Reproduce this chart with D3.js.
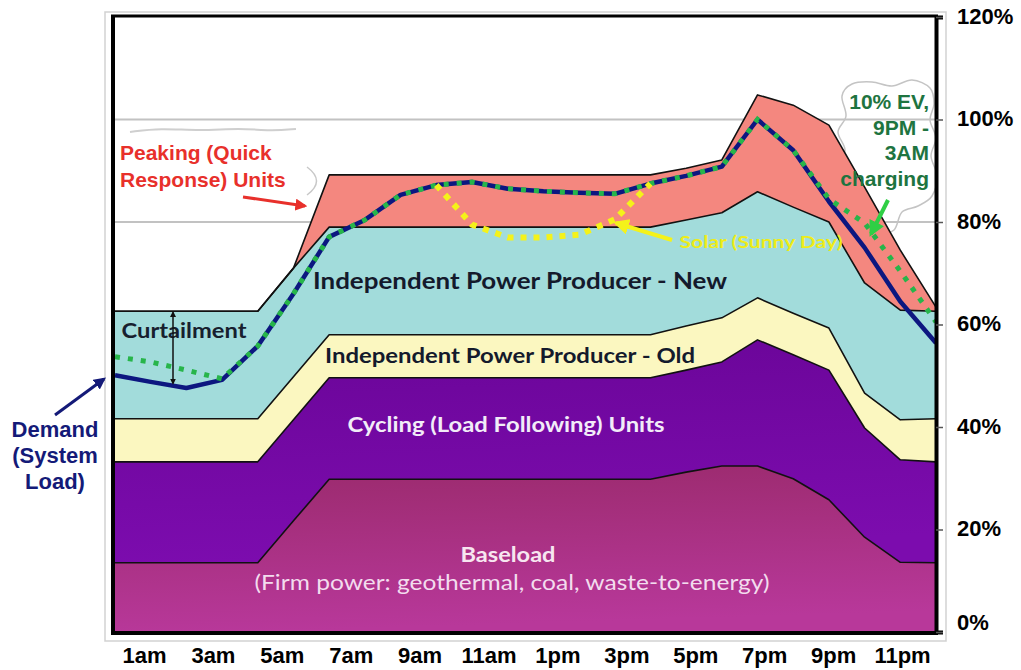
<!doctype html>
<head>
<meta charset="utf-8">
<style>
  body { margin: 0; background: #fff; }
  svg { display: block; }
  .ann { font-family: "Liberation Sans", Arial, sans-serif; font-weight: bold; }
  .inner { font-family: Lato, "Open Sans", sans-serif; }
  .axis text { font-family: "Liberation Sans", Arial, sans-serif; font-weight: bold; font-size: 22px; fill: #000; }
</style>
<script src="https://cdnjs.cloudflare.com/ajax/libs/d3/7.8.5/d3.min.js"></script>
</head>
<body>
<script>
// hour of day (0 = midnight ... 23 = 11pm)
var hours = [0,1,2,3,4,5,6,7,8,9,10,11,12,13,14,15,16,17,18,19,20,21,22,23];

// top edge of each stacked layer, % of peak demand
var baseloadTop = [13.5,13.5,13.5,13.5,13.5,21.7,29.8,29.8,29.8,29.8,29.8,29.8,29.8,29.8,29.8,29.8,31.2,32.4,32.4,29.9,25.8,18.5,13.6,13.5];
var cyclingTop  = [33.2,33.2,33.2,33.2,33.2,41.4,49.6,49.6,49.6,49.6,49.6,49.6,49.6,49.6,49.6,49.6,51.1,52.7,57.0,54.1,51.1,39.8,33.6,33.2];
var ippOldTop   = [41.6,41.6,41.6,41.6,41.6,49.8,58.0,58.0,58.0,58.0,58.0,58.0,58.0,58.0,58.0,58.0,59.7,61.3,65.2,62.2,59.3,46.6,41.4,41.6];
var ippNewTop   = [62.6,62.6,62.6,62.6,62.6,71.0,79.0,79.0,79.0,79.0,79.0,79.0,79.0,79.0,79.0,79.0,80.4,81.8,85.9,82.9,80.0,68.1,62.8,62.6];
var peakingTop  = [62.6,62.6,62.6,62.6,62.6,71.0,89.2,89.2,89.2,89.2,89.2,89.2,89.2,89.2,89.2,89.2,90.5,92.1,104.8,102.8,98.9,86.8,74.5,63.4];

var demand  = [50.1,48.8,47.6,49.2,55.8,66.0,77.1,80.4,85.3,87.2,87.8,86.5,86.0,85.7,85.5,87.5,89.0,90.8,100.0,94.0,84.0,75.0,64.5,56.4];
var evLoad  = [53.7,52.7,51.1,49.4,55.8,66.0,77.1,80.4,85.3,87.2,87.8,86.5,86.0,85.7,85.5,87.5,89.0,90.8,100.0,94.0,84.5,79.8,70.4,60.5];
var solarHours = [9,10,11,12,13,14,15];
var solarLoad  = [87.2,79.5,77.0,77.0,77.5,80.5,87.5];

var xLabels = ["1am","3am","5am","7am","9am","11am","1pm","3pm","5pm","7pm","9pm","11pm"];
var yTicks = [0,20,40,60,80,100,120];
var gridVals = [80,100];

var svg = d3.select("body").append("svg").attr("width", 1021).attr("height", 670);

var x = d3.scaleLinear().domain([0, 23]).range([115, 936]);
var y = d3.scaleLinear().domain([0, 120]).range([632, 17]);
var xl = d3.scalePoint().domain(xLabels).range([144, 902]);

var defs = svg.append("defs");
function grad(id, c1, c2) {
  var g = defs.append("linearGradient").attr("id", id).attr("x1", 0).attr("y1", 0).attr("x2", 0.15).attr("y2", 1);
  g.append("stop").attr("offset", "0%").attr("stop-color", c1);
  g.append("stop").attr("offset", "100%").attr("stop-color", c2);
}
grad("gBase", "#9a2a6c", "#b8389a");
grad("gCyc", "#6a0598", "#7c0cae");

// light outer frame
svg.append("rect").attr("x", 105).attr("y", 12).attr("width", 841).attr("height", 629)
  .attr("fill", "none").attr("stroke", "#d2d2d2").attr("stroke-width", 1.5);

// gridlines
svg.selectAll(".grid").data(gridVals).enter().append("line")
  .attr("x1", 113).attr("x2", 936)
  .attr("y1", d => y(d)).attr("y2", d => y(d))
  .attr("stroke", "#c2c2c2").attr("stroke-width", 2);

// cloud scribbles behind the labels
var cloud = [[842,96],[852,84],[872,82],[892,86],[912,80],[930,88],[934,104],[930,120],[936,138],[931,156],[937,176],[932,196],[918,206],[902,212],[894,230],[878,234],[866,226],[856,214],[846,204],[846,186],[839,168],[845,150],[838,132],[846,116]];
svg.append("path").attr("d", d3.line().curve(d3.curveCardinalClosed)(cloud))
  .attr("fill", "none").attr("stroke", "#c4c4c4").attr("stroke-width", 1.5);
var scrib = [[130,132],[160,128],[200,131],[240,128],[270,131],[296,129]];
svg.append("path").attr("d", d3.line().curve(d3.curveBasis)(scrib))
  .attr("fill", "none").attr("stroke", "#cfcfcf").attr("stroke-width", 2);
svg.append("path").attr("d", "M307,167 Q326,181 307,195")
  .attr("fill", "#fff").attr("stroke", "#c8c8c8").attr("stroke-width", 1.5);

// stacked layers
var zeros = hours.map(() => 0);
var layers = [
  { lower: zeros,       upper: baseloadTop, fill: "url(#gBase)" },
  { lower: baseloadTop, upper: cyclingTop,  fill: "url(#gCyc)" },
  { lower: cyclingTop,  upper: ippOldTop,   fill: "#fbf7c0" },
  { lower: ippOldTop,   upper: ippNewTop,   fill: "#a2dcdb" },
  { lower: ippNewTop,   upper: peakingTop,  fill: "#f4877f" }
];
var area = d3.area().x(d => x(d.h)).y0(d => y(d.lo)).y1(d => y(d.hi));
var edge = d3.line().x(d => x(d.h)).y(d => y(d.hi));
layers.forEach(function(L) {
  var pts = hours.map((h, i) => ({ h: h, lo: L.lower[i], hi: L.upper[i] }));
  L.pts = pts;
  svg.append("path").attr("d", area(pts)).attr("fill", L.fill);
});
layers.forEach(function(L) {
  svg.append("path").attr("d", edge(L.pts)).attr("fill", "none")
    .attr("stroke", "#111").attr("stroke-width", 1.6).attr("stroke-linejoin", "round");
});

// load lines
var ln = d3.line().x(d => x(d[0])).y(d => y(d[1]));
svg.append("path").attr("d", ln(hours.map((h, i) => [h, demand[i]])))
  .attr("fill", "none").attr("stroke", "#0c1780").attr("stroke-width", 4.5).attr("stroke-linejoin", "round");
svg.append("path").attr("d", ln(hours.map((h, i) => [h, evLoad[i]])))
  .attr("fill", "none").attr("stroke", "#27b54a").attr("stroke-width", 5).attr("stroke-dasharray", "5,8");
svg.append("path").attr("d", ln(solarHours.map((h, i) => [h, solarLoad[i]])))
  .attr("fill", "none").attr("stroke", "#f4f21a").attr("stroke-width", 6).attr("stroke-dasharray", "6,7");

// frame
svg.append("line").attr("x1", 111).attr("x2", 938).attr("y1", 16).attr("y2", 16).attr("stroke", "#000").attr("stroke-width", 3);
svg.append("line").attr("x1", 111).attr("x2", 938).attr("y1", 633).attr("y2", 633).attr("stroke", "#000").attr("stroke-width", 4);
svg.append("line").attr("x1", 113).attr("x2", 113).attr("y1", 15).attr("y2", 635).attr("stroke", "#000").attr("stroke-width", 4);

// right axis
var ya = svg.append("g").attr("class", "axis").attr("transform", "translate(936,0)")
  .call(d3.axisRight(y).tickValues(yTicks).tickFormat(d => d + "%").tickSize(7).tickPadding(14));
ya.select(".domain").attr("stroke", "#000").attr("stroke-width", 4);
ya.selectAll(".tick line").attr("stroke", "#555").attr("stroke-width", 1.5);
ya.selectAll(".tick text").attr("dy", d => d === 0 ? "-0.1em" : "0.28em");

// bottom labels
var xa = svg.append("g").attr("class", "axis").attr("transform", "translate(0,663)")
  .call(d3.axisBottom(xl).tickSize(0).tickPadding(0));
xa.select(".domain").remove();
xa.selectAll(".tick text").attr("dy", "0");

// in-chart labels
function inner(txt, cx, by, size, color, weight, len) {
  var t = svg.append("text").attr("class", "inner").attr("x", cx).attr("y", by)
    .attr("text-anchor", "middle").attr("font-size", size).attr("fill", color)
    .attr("font-weight", weight).text(txt);
  if (len) t.attr("textLength", len).attr("lengthAdjust", "spacingAndGlyphs");
  return t;
}
inner("Independent Power Producer - New", 520, 289, 22, "#141a2c", "bold", 414);
inner("Independent Power Producer - Old", 510, 363, 21, "#141a2c", "bold", 370);
inner("Cycling (Load Following) Units", 506, 432, 21, "#f2ecf8", "bold", 317);
inner("Baseload", 508, 562, 21, "#f7e6f0", "bold", 95);
inner("(Firm power: geothermal, coal, waste-to-energy)", 512, 590, 21, "#f3dcee", "normal", 515);
inner("Curtailment", 184, 338, 20, "#17202e", "bold", 125);
inner("Solar (Sunny Day)", 761, 248, 17, "#eeec18", "bold", 163);

// annotations
function ann(lines, ax, by, anchor, color, size, gap) {
  var t = svg.append("text").attr("class", "ann").attr("x", ax).attr("y", by)
    .attr("text-anchor", anchor).attr("fill", color).attr("font-size", size);
  lines.forEach((s, i) => t.append("tspan").attr("x", ax).attr("dy", i ? gap : 0).text(s));
}
ann(["Peaking (Quick", "Response) Units"], 120, 160, "start", "#e8302b", 21, 27);
ann(["Demand", "(System", "Load)"], 55, 437, "middle", "#141a78", 22, 26);
ann(["10% EV,", "9PM -", "3AM", "charging"], 929, 109, "end", "#1e7440", 21, 25.5);

// arrows
function marker(id, color) {
  defs.append("marker").attr("id", id).attr("viewBox", "0 0 10 10").attr("refX", 8).attr("refY", 5)
    .attr("markerWidth", 4).attr("markerHeight", 4).attr("orient", "auto-start-reverse")
    .append("path").attr("d", "M0,0 L10,5 L0,10 z").attr("fill", color);
}
marker("mRed", "#e8302b");
marker("mNavy", "#141a78");
marker("mYel", "#f4f21a");
marker("mGrn", "#2fcf45");
marker("mBlk", "#111");
function arrow(x1, y1, x2, y2, color, w, m, both) {
  var l = svg.append("line").attr("x1", x1).attr("y1", y1).attr("x2", x2).attr("y2", y2)
    .attr("stroke", color).attr("stroke-width", w).attr("marker-end", "url(#" + m + ")");
  if (both) l.attr("marker-start", "url(#" + m + ")");
}
arrow(243, 197, 305, 206, "#e8302b", 3, "mRed");
arrow(55, 415, 104, 379, "#141a78", 3, "mNavy");
arrow(672, 240, 616, 223, "#f4f21a", 4, "mYel");
arrow(888, 200, 871, 234, "#2fcf45", 4, "mGrn");
arrow(173, y(62.6) + 1, 173, y(48.3) - 1, "#111", 1.5, "mBlk", true);
</script>
</body>
